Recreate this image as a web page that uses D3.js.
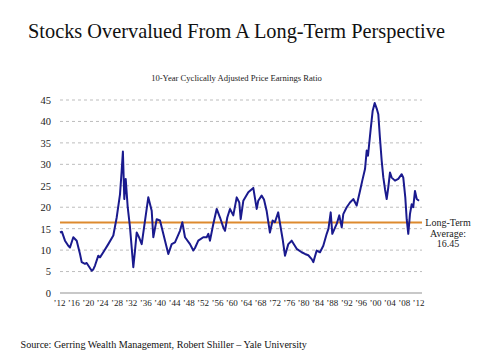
<!DOCTYPE html>
<html><head><meta charset="utf-8">
<script src="https://cdn.jsdelivr.net/npm/d3@7"></script>
<style>body{margin:0;background:#fff}svg{display:block}</style>
</head><body><div id="chart"></div>
<script>
const years = [1912.28,1912.8,1913.67,1914.59,1915.06,1915.98,1916.93,1917.85,1918.32,1919.24,1919.7,1920.16,1921.11,1921.55,1922.03,1922.95,1923.42,1924.34,1925.73,1927.13,1928.07,1928.99,1929.46,1929.8,1930.19,1930.58,1931.14,1931.78,1932.7,1933.17,1933.64,1934.28,1935.04,1935.96,1936.87,1937.82,1938.27,1939.21,1940.13,1941.05,1942.45,1943.39,1944.31,1945.7,1946.35,1947.1,1948.49,1949.41,1949.88,1950.8,1952.19,1953.14,1953.59,1954.06,1954.98,1955.93,1956.85,1957.77,1958.24,1958.88,1959.63,1960.55,1961.5,1962.22,1962.61,1963.34,1964.73,1966.12,1967.07,1967.5,1968.44,1969.1,1969.83,1970.75,1971.5,1972.14,1973.06,1973.5,1974.29,1974.95,1975.87,1976.82,1978.21,1979.6,1980.52,1981.44,1982.39,1982.84,1983.78,1984.7,1985.62,1986.57,1987.07,1987.68,1988.13,1989.35,1990.08,1990.75,1991.19,1992.14,1993.06,1993.98,1994.92,1995.84,1996.48,1997.24,1997.71,1998.07,1998.82,1999.38,1999.94,2000.5,2000.94,2001.42,2001.89,2002.33,2002.81,2003.28,2003.72,2004.2,2004.67,2005.59,2006.51,2007.46,2007.9,2008.46,2008.85,2009.29,2009.76,2010.24,2010.68,2011.16,2011.64,2012.28];
const cape = [14.1,14.3,12.2,11.0,10.6,13.0,12.2,9.1,7.2,6.8,7.0,6.4,5.2,5.5,6.4,8.7,8.3,9.5,11.4,13.4,17.6,23.0,28.5,33.0,21.9,26.6,20.0,15.3,6.0,9.9,14.1,13.0,11.4,16.9,22.3,19.2,13.0,17.2,16.9,13.8,9.1,11.4,11.8,14.5,16.5,13.0,11.4,9.9,10.5,12.2,13.0,13.0,13.8,12.2,16.1,19.6,17.6,15.3,14.5,17.6,19.6,18.1,22.3,21.1,17.2,21.5,23.5,24.5,19.6,21.5,22.7,21.8,19.2,14.1,16.9,16.5,18.8,16.5,12.6,8.7,11.4,12.2,10.3,9.5,9.1,8.8,7.9,7.2,9.9,9.5,11.0,13.8,15.0,18.8,13.8,16.1,18.1,15.3,18.4,20.0,21.1,21.9,20.4,23.8,26.2,28.9,33.2,32.0,38.2,42.5,44.3,43.0,41.7,35.9,30.8,27.0,24.2,21.9,24.6,28.1,26.9,26.2,26.6,27.7,26.9,22.3,17.2,13.8,18.4,20.7,20.0,23.8,21.9,21.5];
const yTicks = [0,5,10,15,20,25,30,35,40,45];
const xTickYears = d3.range(1912, 2013, 4);
const longTermAvg = 16.45;
const titleText = "Stocks Overvalued From A Long-Term Perspective";
const subtitleText = "10-Year Cyclically Adjusted Price Earnings Ratio";
const sourceText = "Source: Gerring Wealth Management, Robert Shiller \u2013 Yale University";
const avgLabel = ["Long-Term", "Average:", "16.45"];

const W = 480, H = 360;
const svg = d3.select("#chart").append("svg").attr("width", W).attr("height", H);
const font = "'Liberation Serif','DejaVu Serif',serif";
const x = d3.scaleLinear().domain([1912, 2012]).range([59, 418]);
const y = d3.scaleLinear().domain([0, 45]).range([293, 100]);
const plotL = 60, plotR = 422;

function fitText(sel, width) {
  const n = sel.node(); const w = n.getComputedTextLength();
  const fs = parseFloat(sel.attr("font-size"));
  sel.attr("font-size", fs * width / w);
}

// title
const t = svg.append("text").attr("x", 236.5).attr("y", 38).attr("text-anchor", "middle")
  .attr("font-family", font).attr("font-size", 20).attr("fill", "#111").text(titleText);
fitText(t, 417);
const st = svg.append("text").attr("x", 236.5).attr("y", 81).attr("text-anchor", "middle")
  .attr("font-family", font).attr("font-size", 9).attr("fill", "#222").text(subtitleText);
fitText(st, 171);

// gridlines
svg.append("g").selectAll("line").data(yTicks.filter(d => d > 0)).join("line")
  .attr("x1", plotL).attr("x2", plotR).attr("y1", d => y(d)).attr("y2", d => y(d))
  .attr("stroke", "#bdbdbd").attr("stroke-width", 1).attr("stroke-dasharray", "3,3");
svg.append("line").attr("x1", plotL).attr("x2", plotR).attr("y1", y(0)).attr("y2", y(0))
  .attr("stroke", "#c8c8c8").attr("stroke-width", 2);

// y axis labels
const yAxis = d3.axisLeft(y).tickValues(yTicks).tickSize(0).tickPadding(0).tickFormat(d3.format("d"));
const gy = svg.append("g").attr("transform", "translate(51,0)").call(yAxis);
gy.select(".domain").remove();
gy.selectAll("text").attr("font-family", font).attr("font-size", 10.5).attr("fill", "#222");

// x axis labels
const xAxis = d3.axisBottom(x).tickValues(xTickYears).tickSize(0).tickPadding(0)
  .tickFormat(d => "\u2019" + String(d).slice(2));
const gx = svg.append("g").attr("transform", "translate(0,300)").call(xAxis);
gx.select(".domain").remove();
gx.selectAll("text").attr("font-family", font).attr("font-size", 9).attr("fill", "#222");

// average line
svg.append("line").attr("x1", plotL).attr("x2", plotR).attr("y1", y(longTermAvg)).attr("y2", y(longTermAvg))
  .attr("stroke", "#dd8a2e").attr("stroke-width", 2);

// data line
const data = years.map((yr, i) => ({yr, v: cape[i]}));
svg.append("path").datum(data)
  .attr("d", d3.line().x(d => x(d.yr)).y(d => y(d.v)))
  .attr("fill", "none").attr("stroke", "#1a1a8e").attr("stroke-width", 2).attr("stroke-linejoin", "round");

// avg label
svg.append("text").attr("font-family", font).attr("font-size", 10).attr("fill", "#222").attr("text-anchor", "middle")
  .selectAll("tspan").data(avgLabel).join("tspan")
  .attr("x", 448).attr("y", (d, i) => 226 + i * 10.5).text(d => d);

// source
const so = svg.append("text").attr("x", 20.5).attr("y", 348).attr("font-family", font)
  .attr("font-size", 10).attr("fill", "#111").text(sourceText);
fitText(so, 287);
</script></body></html>
